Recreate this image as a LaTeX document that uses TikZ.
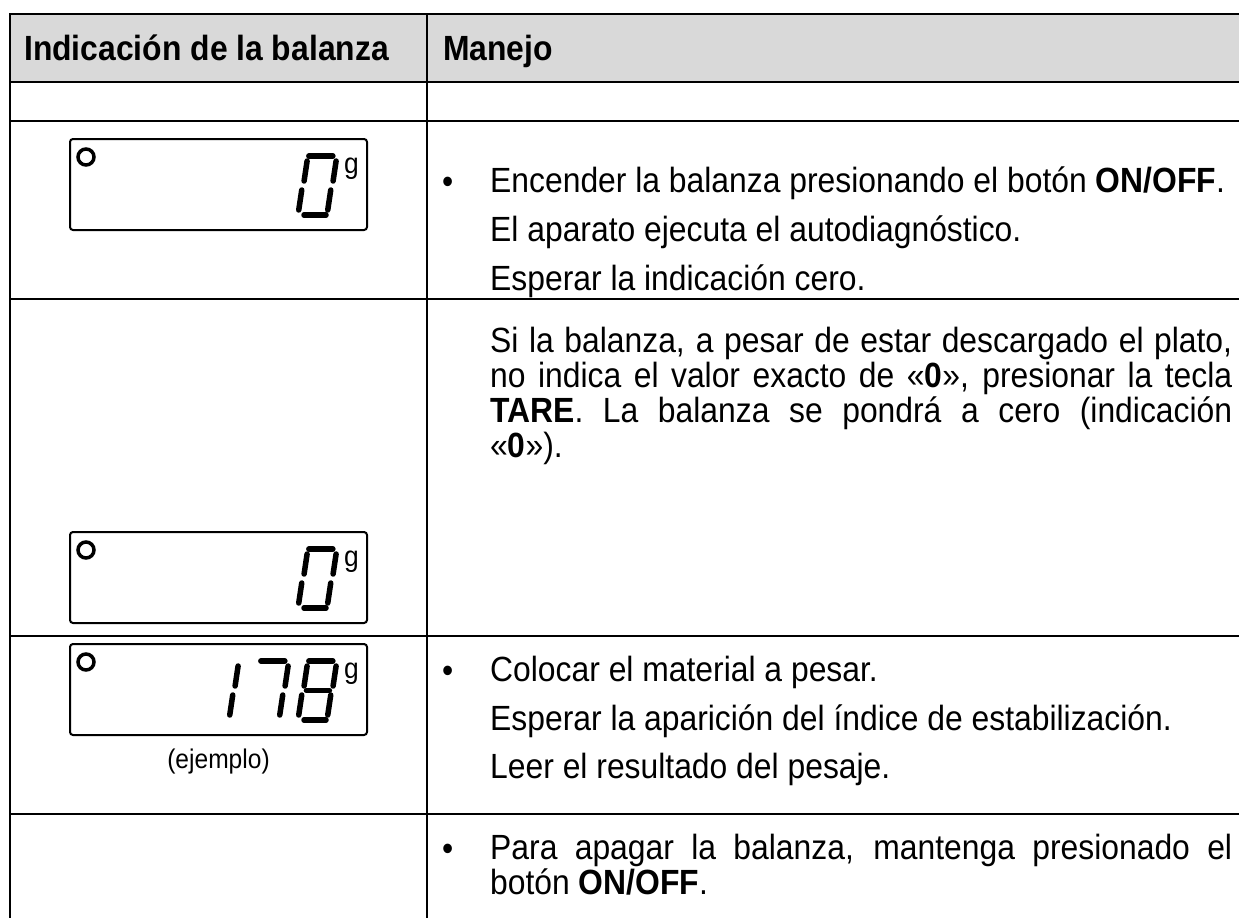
\documentclass[tikz,border=0pt]{standalone}
\usepackage{fontspec}
\setmainfont[FakeStretch=0.91]{Liberation Sans}
\usepackage{tikz}
\definecolor{headgray}{HTML}{D9D9D9}
\tikzstyle{rule}=[draw,line width=2.5pt]
\tikzstyle{cell}=[inner sep=0pt,anchor=base west,font=\fontsize{35}{35}\selectfont]
\tikzstyle{lcd}=[draw,line width=2pt,rounded corners=3pt,minimum width=297pt,minimum height=91pt,inner sep=0pt]
\tikzstyle{ring}=[circle,draw,line width=3.5pt,minimum size=16pt,inner sep=0pt]
\tikzstyle{seg}=[line width=5.5pt,line cap=round]
\tikzstyle{unit}=[inner sep=0pt,anchor=base west,font=\fontsize{29}{29}\selectfont]
\tikzstyle{note}=[inner sep=0pt,font=\fontsize{27}{27}\selectfont]

% one segment: left, bottom, u1, v1, u2, v2
\newcommand{\lcdseg}[6]{\draw[seg] ({#1+#3+0.15*#4},{#2-#4}) -- ({#1+#5+0.15*#6},{#2-#6});}
\newcommand{\sega}[2]{\lcdseg{#1}{#2}{2}{59}{26}{59}}
\newcommand{\segb}[2]{\lcdseg{#1}{#2}{30}{54}{30}{34}}
\newcommand{\segc}[2]{\lcdseg{#1}{#2}{29}{25}{29}{5}}
\newcommand{\segd}[2]{\lcdseg{#1}{#2}{6}{0}{28}{0}}
\newcommand{\sege}[2]{\lcdseg{#1}{#2}{0}{25}{0}{5}}
\newcommand{\segf}[2]{\lcdseg{#1}{#2}{1}{54}{1}{34}}
\newcommand{\segg}[2]{\lcdseg{#1}{#2}{4}{29.5}{27}{29.5}}
\newcommand{\lcdzero}[2]{\sega{#1}{#2}\segb{#1}{#2}\segc{#1}{#2}\segd{#1}{#2}\sege{#1}{#2}\segf{#1}{#2}}
\newcommand{\lcdone}[2]{\segb{#1}{#2}\segc{#1}{#2}}
\newcommand{\lcdseven}[2]{\sega{#1}{#2}\segb{#1}{#2}\segc{#1}{#2}}
\newcommand{\lcdeight}[2]{\lcdzero{#1}{#2}\segg{#1}{#2}}

\begin{document}
\begin{tikzpicture}[x=1pt,y=-1pt]
        \useasboundingbox (0,0) rectangle (1239,918);
        \fill[headgray] (10,14) rectangle (1239,82);
        % table rules
        \draw[rule] (1239,14) -- (10,14) -- (10,918);
        \draw[rule] (427,14) -- (427,918);
        \foreach \y in {82,121,299,636,814}
          \draw[rule] (10,\y) -- (1239,\y);

        \node[cell] (hdrind) at (24,60) {\bfseries Indicación de la balanza};
        \node[cell] (hdrman) at (443,60) {\bfseries Manejo};

        % displays
        \node[lcd] (disp1) at (218.5,184.5) {};
        \node[ring] (ring1) at (86,157) {};
        \lcdzero{298}{215}
        \node[unit] (unit1) at (344,173) {g};

        \node[lcd] (disp2) at (218.5,577.5) {};
        \node[ring] (ring2) at (86,550) {};
        \lcdzero{298}{608}
        \node[unit] (unit2) at (344,566) {g};

        \node[lcd] (disp3) at (218.5,689.5) {};
        \node[ring] (ring3) at (86,662) {};
        \lcdone{200}{720}
        \lcdseven{250}{720}
        \lcdeight{298}{720}
        \node[unit] (unit3) at (344,678) {g};
        \node[note] (example) at (218.5,762) {(ejemplo)};

        % instructions
        \node[cell] (bulon) at (442,193) {\textbullet};
        \node[cell] (txton) at (490,192) {Encender la balanza presionando el botón \textbf{ON/OFF}.};
        \node[cell] (txtauto) at (490,241) {El aparato ejecuta el autodiagnóstico.};
        \node[cell] (txtzero) at (490,290) {Esperar la indicación cero.};

        \node[cell] (txttare1) at (490,352) {\makebox[742pt][s]{Si la balanza, a pesar de estar descargado el plato,}};
        \node[cell] (txttare2) at (490,387) {\makebox[742pt][s]{no indica el valor exacto de «\textbf{0}», presionar la tecla}};
        \node[cell] (txttare3) at (490,422) {\makebox[742pt][s]{\textbf{TARE}. La balanza se pondrá a cero (indicación}};
        \node[cell] (txttare4) at (490,457) {«\textbf{0}»).};

        \node[cell] (bulput) at (442,682) {\textbullet};
        \node[cell] (txtput) at (490,681) {Colocar el material a pesar.};
        \node[cell] (txtstab) at (490,730) {Esperar la aparición del índice de estabilización.};
        \node[cell] (txtread) at (490,778) {Leer el resultado del pesaje.};

        \node[cell] (buloff) at (442,860) {\textbullet};
        \node[cell] (txtoff1) at (490,859) {\makebox[742pt][s]{Para apagar la balanza, mantenga presionado el}};
        \node[cell] (txtoff2) at (490,894) {botón \textbf{ON/OFF}.};
      \end{tikzpicture}
\end{document}
